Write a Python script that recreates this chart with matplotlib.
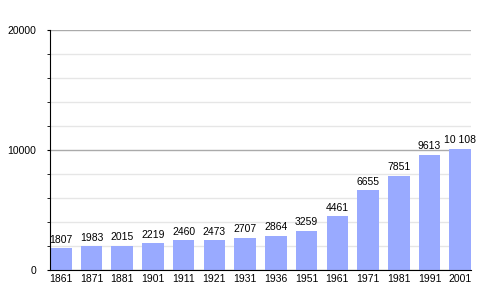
import matplotlib.pyplot as plt
from matplotlib.ticker import MultipleLocator

years = ["1861", "1871", "1881", "1901", "1911", "1921", "1931",
         "1936", "1951", "1961", "1971", "1981", "1991", "2001"]
population = [1807, 1983, 2015, 2219, 2460, 2473, 2707,
              2864, 3259, 4461, 6655, 7851, 9613, 10108]
value_labels = ["1807", "1983", "2015", "2219", "2460", "2473", "2707",
                "2864", "3259", "4461", "6655", "7851", "9613", "10 108"]

plt.rcParams['font.family'] = ['Liberation Sans', 'DejaVu Sans']


def make_plot():
    fig = plt.figure(figsize=(5, 3), dpi=100)
    ax = fig.add_axes([0.1, 0.1, 0.842, 0.8])
    x = list(range(len(years)))

    # grid first so bars sit on top
    ax.set_axisbelow(True)
    ax.yaxis.set_major_locator(MultipleLocator(10000))
    ax.yaxis.set_minor_locator(MultipleLocator(2000))
    ax.grid(True, axis='y', which='major', color='#aaaaaa', linewidth=1)
    ax.grid(True, axis='y', which='minor', color='#e6e6e6', linewidth=1)

    ax.bar(x, population, width=0.7, color='#99aaff')
    for xi, v, lab in zip(x, population, value_labels):
        ax.annotate(lab, xy=(xi, v), xytext=(0, 2.5), textcoords='offset points',
                    ha='center', va='bottom', fontsize=7.5)

    ax.set_xlim(-0.35, len(years) - 0.65)
    ax.set_ylim(0, 20000)
    ax.set_xticks(x)
    ax.set_xticklabels(years)
    ax.tick_params(axis='x', length=0, labelsize=7.5, pad=3)
    ax.tick_params(axis='y', which='major', length=2, labelsize=7.5, pad=8)
    ax.tick_params(axis='y', which='minor', length=2)
    ax.spines['top'].set_visible(False)
    ax.spines['right'].set_visible(False)

    fig.savefig("out.png", dpi=100)


if __name__ == "__main__":
    make_plot()
